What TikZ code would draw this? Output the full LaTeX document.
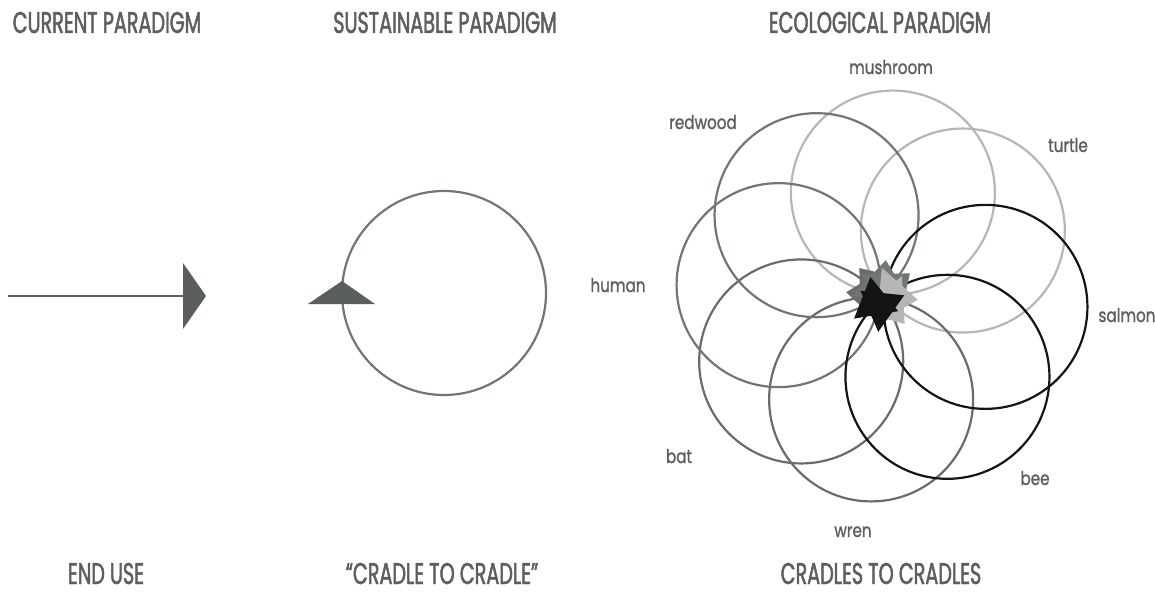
\documentclass[tikz,border=0pt]{standalone}
\usepackage{fontspec}
\newfontfamily\headfont[FakeStretch=0.64, FakeBold=1.6]{Poppins}
\newfontfamily\tagfont[FakeStretch=0.8, FakeBold=1.2]{Poppins}
\usepackage{tikz}
\usetikzlibrary{calc}

\definecolor{inkgray}{HTML}{5A5F5D}
\definecolor{textgray}{HTML}{5E5E5E}
\definecolor{ringteal}{HTML}{6F7774}
\definecolor{ringmid}{HTML}{6B6B6B}
\definecolor{ringlight}{HTML}{B6B6B6}
\definecolor{ringblack}{HTML}{141414}

\begin{document}
\begin{tikzpicture}[
    x=1pt, y=-1pt,
    heading/.style={text=textgray, font=\headfont\fontsize{30}{30}\selectfont,
                    inner sep=0pt, anchor=base, text depth=0pt},
    species/.style={text=textgray, font=\tagfont\fontsize{19}{19}\selectfont,
                    inner sep=0pt, anchor=base},
    shaft/.style={draw=inkgray, line width=2.6pt},
    ring/.style={line width=2.2pt},
]
\useasboundingbox (0,0) rectangle (1155,593);

% column headings
\node[heading] (curhead) at (107,33) {CURRENT PARADIGM};
\node[heading] (sushead) at (445,33) {SUSTAINABLE PARADIGM};
\node[heading] (ecohead) at (880,33) {ECOLOGICAL PARADIGM};

\node[heading] (endcap) at (106,584) {END USE};
\node[heading] (loopcap) at (442,584) {“CRADLE TO CRADLE”};
\node[heading] (ecocap) at (881,584) {CRADLES TO CRADLES};

% current: straight line
\coordinate (start) at (8,296);
\coordinate (tip) at (183,296);
\draw[shaft] (start) -- (tip);
\fill[inkgray] (tip) ++(0,-33) -- ++(23,33) -- ++(-23,33) -- cycle;

% sustainable: one loop
\coordinate (loopmid) at (444,293);
\draw[ring, draw=ringteal] (loopmid) circle (102);
\fill[inkgray] ($(loopmid)+(-102,0)$) ++(0,-12) -- ++(-34,23) -- ++(67,0) -- cycle;

% ecological: eight loops round one hub
\coordinate (hub) at (882,296);
\foreach \a/\col in {276/ringlight, 321/ringlight, 96/ringmid, 141/ringmid,
                     186/ringteal, 231/ringteal, 6/ringblack, 51/ringblack}{
    \draw[ring, draw=\col] ($(hub)+(\a:104)$) circle (102);
}
\foreach \a/\col/\w in {96/ringmid/30, 141/ringmid/30, 186/ringteal/30, 231/ringteal/30,
                        276/ringlight/28, 321/ringlight/28, 6/ringblack/22, 51/ringblack/22}{
    \fill[\col] ($(hub)+(\a+90:36)$) -- ($(hub)+(\a+90:-3)+(\a:\w)$)
        -- ($(hub)+(\a+90:-3)+(\a:-\w)$) -- cycle;
}

\node[species] (mushroom) at (891,74) {mushroom};
\node[species] (redwood) at (703,129) {redwood};
\node[species] (turtle) at (1068,152) {turtle};
\node[species] (human) at (618,292) {human};
\node[species] (salmon) at (1127,322) {salmon};
\node[species] (bat) at (679,463) {bat};
\node[species] (bee) at (1035,485) {bee};
\node[species] (wren) at (853,537) {wren};

\end{tikzpicture}
\end{document}
